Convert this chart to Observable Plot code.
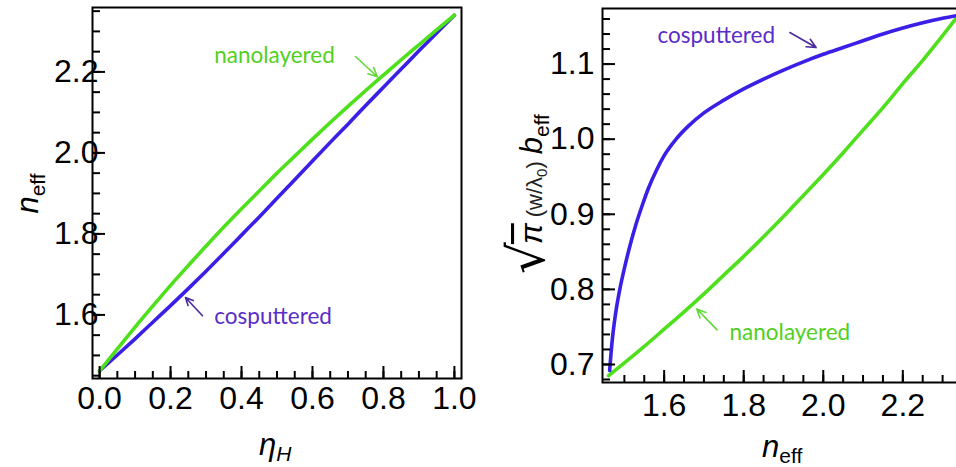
<!DOCTYPE html>
<html><head><meta charset="utf-8">
<script src="https://cdn.jsdelivr.net/npm/d3@7"></script>
<script src="https://cdn.jsdelivr.net/npm/@observablehq/plot@0.6"></script>
<style>
html,body{margin:0;padding:0;background:#fff;overflow:hidden;width:956px;height:467px;}
#wrap{position:relative;width:956px;height:467px;overflow:hidden;background:#fff;}
.panel{position:absolute;top:0;}
.ttl{position:absolute;font-family:"Liberation Sans",Arial,sans-serif;color:#000;white-space:nowrap;line-height:1;transform-origin:center center;}
.sub{font-size:21px;position:relative;top:0.32em;font-style:normal;}
</style></head><body><div id="wrap"></div>
<script>
// ---- Left panel data: n_eff vs eta_H ----
const etaH = [0,0.05,0.10,0.15,0.20,0.25,0.30,0.35,0.40,0.45,0.50,0.55,0.60,0.65,0.70,0.75,0.80,0.85,0.90,0.95,1.00];
const neffNanolayered = [1.462,1.516,1.570,1.622,1.673,1.722,1.770,1.817,1.862,1.906,1.950,1.992,2.034,2.075,2.115,2.154,2.192,2.230,2.267,2.304,2.340];
const neffCosputtered = [1.462,1.501,1.541,1.582,1.623,1.665,1.708,1.752,1.797,1.842,1.888,1.934,1.980,2.026,2.071,2.117,2.162,2.207,2.252,2.296,2.340];

// ---- Right panel data: sqrt(pi w/lambda0) b_eff vs n_eff ----
const nNanoR = [1.460,1.50,1.55,1.60,1.65,1.70,1.75,1.80,1.85,1.90,1.95,2.00,2.05,2.10,2.15,2.20,2.25,2.30,2.34];
const bNanoR = [0.685,0.702,0.724,0.747,0.770,0.794,0.819,0.844,0.870,0.897,0.925,0.953,0.982,1.012,1.042,1.074,1.105,1.138,1.165];
const nCospR = [1.463,1.466,1.470,1.475,1.480,1.490,1.500,1.515,1.530,1.545,1.560,1.580,1.600,1.630,1.660,1.700,1.750,1.800,1.850,1.900,1.950,2.000,2.050,2.100,2.150,2.200,2.250,2.300,2.340];
const bCospR = [0.692,0.712,0.735,0.757,0.775,0.804,0.828,0.860,0.888,0.912,0.934,0.958,0.978,1.000,1.017,1.035,1.052,1.067,1.080,1.092,1.103,1.113,1.122,1.131,1.140,1.148,1.155,1.161,1.165];

// ---- Ticks ----
const xMajorL = [0,0.2,0.4,0.6,0.8,1.0];
const xMinorL = [0,0.05,0.1,0.15,0.2,0.25,0.3,0.35,0.4,0.45,0.5,0.55,0.6,0.65,0.7,0.75,0.8,0.85,0.9,0.95,1.0];
const yMajorL = [1.6,1.8,2.0,2.2];
const yMinorL = [1.45,1.5,1.55,1.6,1.65,1.7,1.75,1.8,1.85,1.9,1.95,2.0,2.05,2.1,2.15,2.2,2.25,2.3,2.35];
const xMajorR = [1.6,1.8,2.0,2.2];
const xMinorR = [1.5,1.55,1.6,1.65,1.7,1.75,1.8,1.85,1.9,1.95,2.0,2.05,2.1,2.15,2.2,2.25,2.3];
const yMajorR = [0.7,0.8,0.9,1.0,1.1];
const yMinorR = [0.68,0.7,0.72,0.74,0.76,0.78,0.8,0.82,0.84,0.86,0.88,0.9,0.92,0.94,0.96,0.98,1.0,1.02,1.04,1.06,1.08,1.1,1.12,1.14,1.16];

// ---- Annotations (data coordinates) ----
const labelsL = [
  {x:0.493, y:2.240, text:"nanolayered", c:"green"},
  {x:0.489, y:1.596, text:"cosputtered", c:"purple"}
];
const arrowsL = [
  {x1:0.721, y1:2.238, x2:0.783, y2:2.188, c:"green"},
  {x1:0.290, y1:1.598, x2:0.242, y2:1.643, c:"purple"}
];
const labelsR = [
  {x:1.731, y:1.138, text:"cosputtered", c:"purple"},
  {x:1.916, y:0.742, text:"nanolayered", c:"green"}
];
const arrowsR = [
  {x1:1.916, y1:1.142, x2:1.982, y2:1.122, c:"purple"},
  {x1:1.733, y1:0.746, x2:1.682, y2:0.774, c:"green"}
];

const GREEN = "#4fe01c";
const BLUE = "#3a1fe6";
const TXT = {green:"#52cf22", purple:"#5a2dc8"};
const ARR = {green:"#62d83a", purple:"#4a2a9e"};

const leftNano = etaH.map((e,i)=>({x:e, y:neffNanolayered[i]}));
const leftCosp = etaH.map((e,i)=>({x:e, y:neffCosputtered[i]}));
const rightNano = nNanoR.map((n,i)=>({x:n, y:bNanoR[i]}));
const rightCosp = nCospR.map((n,i)=>({x:n, y:bCospR[i]}));

const fmt1 = d3.format(".1f");
const FONT = "Liberation Sans, Arial, sans-serif";

function axesMarks(xMaj, xMin, yMaj, yMin, xPad, yPad, ydx) {
  return [
    Plot.axisX(xMaj, {tickSize:-12, text:null, strokeWidth:2, label:null}),
    Plot.axisX(xMin, {tickSize:-7, text:null, strokeWidth:2, label:null}),
    Plot.axisX(xMaj, {tickSize:0, tickPadding:xPad, fontSize:32, tickFormat:fmt1, label:null, fill:"#000"}),
    Plot.axisY(yMaj, {tickSize:-13, text:null, strokeWidth:2, label:null}),
    Plot.axisY(yMin, {tickSize:-8, text:null, strokeWidth:2, label:null}),
    Plot.axisY(yMaj, {tickSize:0, tickPadding:yPad, dx:ydx, fontSize:32, tickFormat:fmt1, label:null, fill:"#000"})
  ];
}

function annot(labels, arrows) {
  return [
    Plot.arrow(arrows, {x1:"x1", y1:"y1", x2:"x2", y2:"y2", stroke:d=>ARR[d.c], strokeWidth:1.6, headLength:11, headAngle:50}),
    Plot.text(labels, {x:"x", y:"y", text:"text", fill:d=>TXT[d.c], fontSize:22.5, fontFamily:"Lato, Open Sans, sans-serif"})
  ];
}

const left = Plot.plot({
  width: 470, height: 467,
  marginLeft: 92, marginRight: 9, marginTop: 7, marginBottom: 89,
  x: {domain: [-0.02, 1.02], label: null},
  y: {domain: [1.443, 2.359], label: null},
  style: {fontFamily: FONT, background: "transparent", color: "#000", overflow: "visible"},
  marks: [
    Plot.line(leftCosp, {x:"x", y:"y", stroke:BLUE, strokeWidth:3.6, curve:"monotone-x"}),
    Plot.line(leftNano, {x:"x", y:"y", stroke:GREEN, strokeWidth:3.6, curve:"monotone-x"}),
    ...annot(labelsL, arrowsL),
    Plot.frame({stroke:"#000", strokeWidth:2}),
    ...axesMarks(xMajorL, xMinorL, yMajorL, yMinorL, 8, 0, 6)
  ]
});

const right = Plot.plot({
  width: 480, height: 467,
  marginLeft: 122, marginRight: 0, marginTop: 8, marginBottom: 85,
  x: {domain: [1.445, 2.345], label: null},
  y: {domain: [0.676, 1.174], label: null},
  style: {fontFamily: FONT, background: "transparent", color: "#000", overflow: "visible"},
  marks: [
    Plot.line(rightNano, {x:"x", y:"y", stroke:GREEN, strokeWidth:3.6, curve:"monotone-x"}),
    Plot.line(rightCosp, {x:"x", y:"y", stroke:BLUE, strokeWidth:3.6, curve:"monotone-x"}),
    ...annot(labelsR, arrowsR),
    Plot.frame({stroke:"#000", strokeWidth:2}),
    ...axesMarks(xMajorR, xMinorR, yMajorR, yMinorR, 11, 8, 0)
  ]
});

const wrap = document.getElementById("wrap");
left.classList.add("panel"); left.style.left = "0px";
right.classList.add("panel"); right.style.left = "480px";
wrap.appendChild(left);
wrap.appendChild(right);

// ---- Axis titles (HTML text) ----
function title(html, cx, cy, rot, size) {
  const d = document.createElement("div");
  d.className = "ttl";
  d.innerHTML = html;
  d.style.fontSize = size + "px";
  wrap.appendChild(d);
  const w = d.offsetWidth, h = d.offsetHeight;
  d.style.left = (cx - w/2) + "px";
  d.style.top = (cy - h/2) + "px";
  if (rot) d.style.transform = `rotate(${rot}deg)`;
}
title('<i>n</i><span class="sub">eff</span>', 27, 193, -90, 31);
title('<i>η</i><span class="sub" style="font-style:italic">H</span>', 275, 444, 0, 31);
title('<i>n</i><span class="sub">eff</span>', 782, 446, 0, 31);

// Right y title as SVG text with tspans
const rsvg = d3.select(right);
const t = rsvg.append("text")
  .attr("transform", "translate(62,194) rotate(-90)")
  .attr("text-anchor", "middle")
  .attr("font-family", "Liberation Sans, Arial, sans-serif")
  .attr("font-size", 31)
  .attr("fill", "#000");
t.append("tspan").attr("font-family", "DejaVu Sans").attr("font-size", 50).attr("dy", 2).text("√");
t.append("tspan").attr("font-style", "italic").attr("dy", -2).attr("dx", -2).attr("text-decoration", "overline").text("π");
t.append("tspan").attr("font-size", 22).attr("fill", "#222").attr("dx", 6).text("(w/λ");
t.append("tspan").attr("font-size", 15).attr("fill", "#222").attr("dy", 5).text("0");
t.append("tspan").attr("font-size", 22).attr("fill", "#222").attr("dy", -5).text(")");
t.append("tspan").attr("font-style", "italic").attr("dx", 7).text("b");
t.append("tspan").attr("font-size", 21).attr("dy", 7).text("eff");
</script>
</body></html>
